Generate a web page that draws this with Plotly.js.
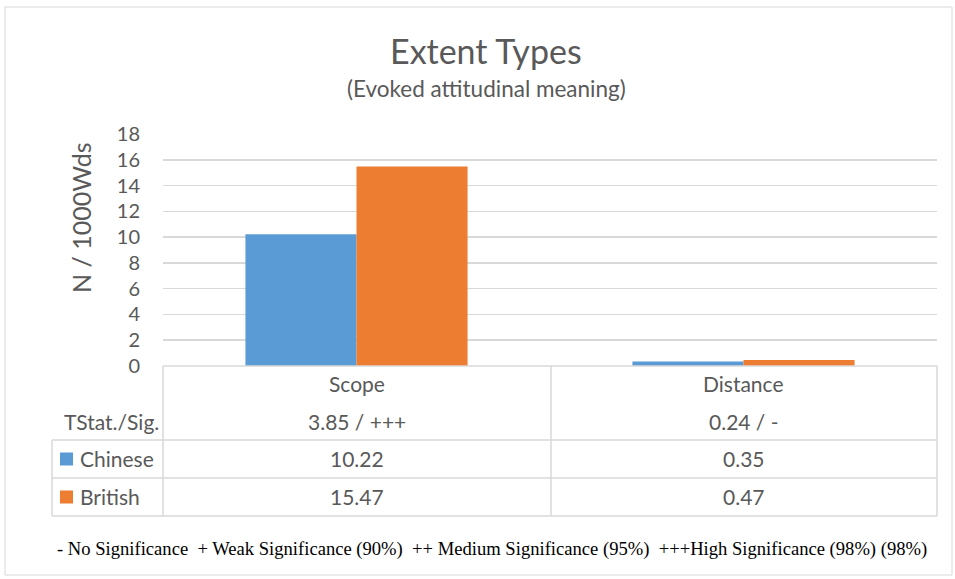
<!DOCTYPE html>
<html>
<head>
<meta charset="utf-8">
<script src="https://cdn.plot.ly/plotly-3.0.1.min.js"></script>
<style>html,body{margin:0;padding:0;background:#fff;}#chart{width:955px;height:579px;}</style>
</head>
<body>
<div id="chart"></div>
<script>
const categories = ["Scope", "Distance"];
const chinese = [10.22, 0.35];
const british = [15.47, 0.47];
const tstat = ["3.85 / +++", "0.24 / -"];
const seriesNames = ["Chinese", "British"];
const yTicks = [0, 2, 4, 6, 8, 10, 12, 14, 16, 18];
const yTitle = "N / 1000Wds";
const footnote = "- No Significance  + Weak Significance (90%)  ++ Medium Significance (95%)  +++High Significance (98%) (98%)";

const W = 955, H = 579;
const L = 163, R = 937, T = 134, B = 366;
const px = x => (x - L) / (R - L);
const py = y => (B - y) / (B - T);

const font = "Lato, 'Noto Sans', sans-serif";
const grey = "#595959";
const lineC = "#d9d9d9";
const colors = ["#5b9bd5", "#ed7d31"];
const TF = 21;

const traces = [
  {type: "bar", name: seriesNames[0], x: categories, y: chinese, marker: {color: colors[0]}},
  {type: "bar", name: seriesNames[1], x: categories, y: british, marker: {color: colors[1]}}
];

const shapes = [];
function ln(x0, y0, x1, y1, c, w) {
  shapes.push({type: "line", xref: "paper", yref: "paper", x0: px(x0), y0: py(y0), x1: px(x1), y1: py(y1), line: {color: c || lineC, width: w || 1.5}});
}
// outer frame
shapes.push({type: "rect", xref: "paper", yref: "paper", x0: px(5), y0: py(7), x1: px(952), y1: py(575), line: {color: "#d9d9d9", width: 1}});
// table lines
ln(L, B, R, B);
ln(52, 440, R, 440);
ln(52, 478, R, 478);
ln(52, 516, R, 516);
ln(52, 440, 52, 516);
ln(L, B, L, 516);
ln(551, B, 551, 516);
ln(R, B, R, 516);
// legend keys
[[459, colors[0]], [497, colors[1]]].forEach(([yc, c]) => {
  shapes.push({type: "rect", xref: "paper", yref: "paper", x0: px(60), x1: px(73), y0: py(yc + 6.5), y1: py(yc - 6.5), fillcolor: c, line: {width: 0}});
});

const annotations = [];
function ann(text, x, y, opts) {
  annotations.push(Object.assign({text: text, xref: "paper", yref: "paper", x: px(x), y: py(y), showarrow: false,
    xanchor: "center", yanchor: "middle", font: {family: font, size: TF, color: grey}}, opts || {}));
}
function cell(text, c, y) {
  annotations.push({text: text, xref: "x", yref: "paper", x: c, y: py(y), showarrow: false, xanchor: "center", yanchor: "middle", font: {family: font, size: TF, color: grey}});
}
categories.forEach((c, i) => {
  cell(c, c, 383);
  cell(tstat[i], c, 421);
  cell(chinese[i].toFixed(2), c, 458);
  cell(british[i].toFixed(2), c, 496);
});
ann("TStat./Sig.", 161, 421, {xanchor: "right"});
ann(seriesNames[0], 78, 458, {xanchor: "left"});
ann(seriesNames[1], 78, 496, {xanchor: "left"});
ann("Extent Types", 486, 51, {font: {family: font, size: 34, color: grey}});
ann("(Evoked attitudinal meaning)", 486, 88, {font: {family: font, size: 22.5, color: grey}});
ann(yTitle, 81, 218, {textangle: -90, font: {family: font, size: 25, color: grey}});
ann(footnote, 492, 549, {font: {family: "'Liberation Serif', 'Times New Roman', serif", size: 18.6, color: "#000"}});

const layout = {
  width: W, height: H,
  margin: {l: L, r: W - R, t: T, b: H - B, pad: 0},
  paper_bgcolor: "#fff", plot_bgcolor: "#fff",
  showlegend: false,
  barmode: "group", bargap: 0.426, bargroupgap: 0,
  xaxis: {showticklabels: false, showgrid: false, zeroline: false, showline: false, ticks: ""},
  yaxis: {range: [0, 18], tickvals: yTicks, showgrid: true, gridcolor: lineC, gridwidth: 1.5, zeroline: false, showline: false,
    ticks: "", ticklabelstandoff: 22, tickfont: {family: font, size: 20, color: grey}},
  shapes: shapes,
  annotations: annotations
};

Plotly.newPlot("chart", traces, layout, {displayModeBar: false, staticPlot: true});
</script>
</body>
</html>
